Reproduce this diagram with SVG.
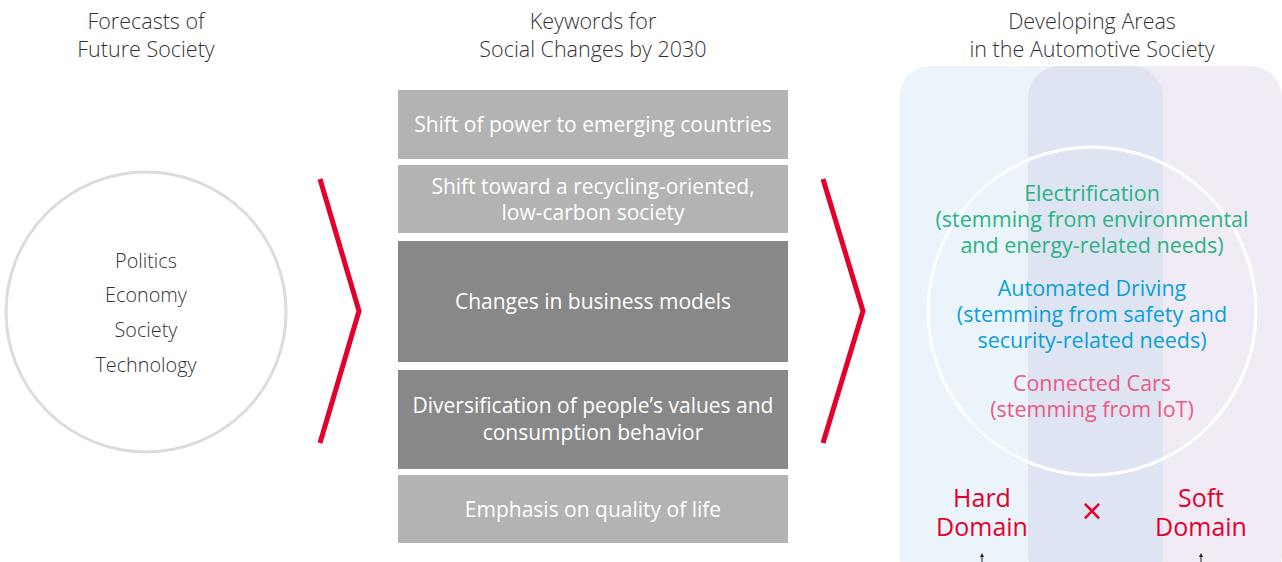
<svg xmlns="http://www.w3.org/2000/svg" width="1282" height="562" viewBox="0 0 1282 562">
<style>
.hdr{font-family:"Open Sans","Liberation Sans",sans-serif;font-size:21.5px;fill:#333;text-anchor:middle;font-weight:300}
.ctext{font-family:"Open Sans","Liberation Sans",sans-serif;font-size:19.8px;fill:#333;text-anchor:middle;font-weight:300}
.box{stroke:none}
.light{fill:#b3b3b3}
.dark{fill:#888888}
.btext{font-family:"Open Sans","Liberation Sans",sans-serif;font-size:21px;fill:#fff;text-anchor:middle}
.rt{font-family:"Open Sans","Liberation Sans",sans-serif;font-size:21.5px;text-anchor:middle}
.green{fill:#2bb383}
.blue{fill:#0ba0d8}
.pink{fill:#ea5a85}
.red{fill:#e4002b;font-family:"Open Sans","Liberation Sans",sans-serif;font-size:25px;text-anchor:middle}
.chev{fill:none;stroke:#e4002b;stroke-width:5;stroke-linejoin:miter}
</style>
<defs>
<marker id="ah" viewBox="0 0 6 6" refX="3" refY="3" markerWidth="4" markerHeight="4" orient="auto">
<path d="M0,0 L6,3 L0,6 z" fill="#222"/>
</marker>
</defs>

<g id="headers">
<text class="hdr" x="146" y="29">Forecasts of</text>
<text class="hdr" x="146" y="57">Future Society</text>
<text class="hdr" x="593" y="29">Keywords for</text>
<text class="hdr" x="593" y="57">Social Changes by 2030</text>
<text class="hdr" x="1092" y="29">Developing Areas</text>
<text class="hdr" x="1092" y="57">in the Automotive Society</text>
</g>

<g id="forecast-circle">
<circle cx="146" cy="312" r="140" fill="#fff" stroke="#dcdcdc" stroke-width="3"/>
<text class="ctext" x="146" y="268">Politics</text>
<text class="ctext" x="146" y="302">Economy</text>
<text class="ctext" x="146" y="337">Society</text>
<text class="ctext" x="146" y="372">Technology</text>
</g>

<g id="connectors">
<polyline class="chev" points="320,179 359,311 320,443"/>
<polyline class="chev" points="823,179 863,311 823,443"/>
</g>

<g id="kw1">
<rect class="box light" x="398" y="90" width="390" height="69"/>
<text class="btext" x="593" y="132">Shift of power to emerging countries</text>
</g>
<g id="kw2">
<rect class="box light" x="398" y="165" width="390" height="68"/>
<text class="btext" x="593" y="194">Shift toward a recycling-oriented,</text>
<text class="btext" x="593" y="220">low-carbon society</text>
</g>
<g id="kw3">
<rect class="box dark" x="398" y="241" width="390" height="121"/>
<text class="btext" x="593" y="309">Changes in business models</text>
</g>
<g id="kw4">
<rect class="box dark" x="398" y="370" width="390" height="99"/>
<text class="btext" x="593" y="413">Diversification of people’s values and</text>
<text class="btext" x="593" y="440">consumption behavior</text>
</g>
<g id="kw5">
<rect class="box light" x="398" y="475" width="390" height="68"/>
<text class="btext" x="593" y="517">Emphasis on quality of life</text>
</g>

<g id="domains">
<rect x="899" y="66" width="264" height="520" rx="32" fill="#ebf4fb"/>
<rect x="1028" y="66" width="254" height="520" rx="32" fill="#f1ebf6"/>
<rect x="1028" y="66" width="135" height="520" rx="32" fill="#dee4f1"/>
</g>

<g id="areas-circle">
<circle cx="1092" cy="311" r="164" fill="none" stroke="#fff" stroke-width="3"/>
<text class="rt green" x="1092" y="201">Electrification</text>
<text class="rt green" x="1092" y="227">(stemming from environmental</text>
<text class="rt green" x="1092" y="253">and energy-related needs)</text>
<text class="rt blue" x="1092" y="296">Automated Driving</text>
<text class="rt blue" x="1092" y="322">(stemming from safety and</text>
<text class="rt blue" x="1092" y="348">security-related needs)</text>
<text class="rt pink" x="1092" y="391">Connected Cars</text>
<text class="rt pink" x="1092" y="417">(stemming from IoT)</text>
</g>

<g id="hard-domain">
<text class="red" x="982" y="507">Hard</text>
<text class="red" x="982" y="536">Domain</text>
</g>
<g id="times">
<text class="red" x="1092" y="524" style="font-size:36px">×</text>
</g>
<g id="soft-domain">
<text class="red" x="1201" y="507">Soft</text>
<text class="red" x="1201" y="536">Domain</text>
</g>
<g id="arrows">
<line x1="982" y1="562" x2="982" y2="555" stroke="#222" stroke-width="1" marker-end="url(#ah)"/>
<line x1="1201" y1="562" x2="1201" y2="555" stroke="#222" stroke-width="1" marker-end="url(#ah)"/>
</g>
</svg>
